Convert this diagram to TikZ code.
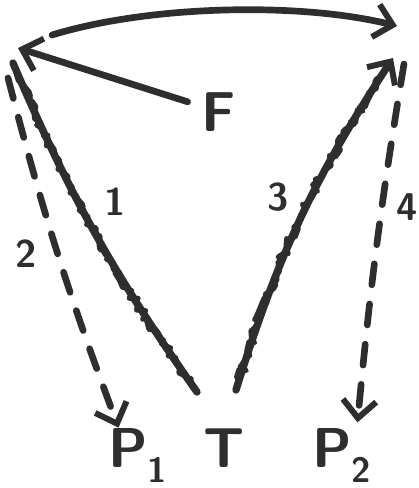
\documentclass[tikz,border=0pt]{standalone}
\usepackage{tikz}
\usetikzlibrary{arrows.meta,calc,decorations.pathmorphing}
\definecolor{Ink}{RGB}{46,46,46}
\newcommand{\lowsub}[1]{\raisebox{-9pt}{\fontsize{20}{22}\selectfont #1}}
\tikzset{
  nd_big/.style={font=\fontsize{32}{38}\selectfont\sffamily\bfseries,text=Ink,inner sep=0pt},
  nd_num/.style={font=\fontsize{22}{26}\selectfont\sffamily\bfseries,text=Ink,inner sep=1pt},
  pen/.style={draw=Ink,line width=3.8pt,line cap=round,line join=round},
  tip/.style={-{Straight Barb[length=10pt,width=19pt,line width=3.4pt]}},
  arr/.style={pen,tip},
  dsh/.style={arr,dash pattern=on 12pt off 11pt},
  hatch/.style={pen,line width=4.2pt},
  fuzz/.style={draw=Ink,line width=2.8pt,line cap=round,line join=round,decorate,
    decoration={random steps,segment length=2.5pt,amplitude=2.4pt}},
}

\begin{document}
\begin{tikzpicture}[x=0.02cm,y=-0.02cm]
\pgfmathsetseed{11}
\useasboundingbox (0,0) rectangle (419,488);
% corners and free ends
\coordinate (A)    at (18,48);
\coordinate (B)    at (393,58);
\coordinate (arcL) at (52,35);
\coordinate (arcR) at (397,26);
\coordinate (h1a)  at (13,63);
\coordinate (h1b)  at (197,392);
\coordinate (h3a)  at (236,390);
\coordinate (h3b)  at (380,78);
\coordinate (d2a)  at (8,78);
\coordinate (d4a)  at (404,64);
% letters
\node[nd_big,anchor=base west] at (201,131)(F){F};
\node[nd_big,anchor=base west] at (108,467)(P1){P\lowsub{1}};
\node[nd_big,anchor=base west] at (203,467)(T){T};
\node[nd_big,anchor=base west] at (312,467)(P2){P\lowsub{2}};
% numbers
\node[nd_num] at (115,202)(n1){1};
\node[nd_num] at (26,254)(n2){2};
\node[nd_num] at (278,197)(n3){3};
\node[nd_num] at (407,207)(n4){4};
% arrows
\draw[arr](arcL) .. controls (150,5) and (300,2) .. (arcR);
\draw[arr,shorten <=8pt](F) -- (A);
\draw[hatch](h1a) to[bend right=6] (h1b);
\draw[fuzz](h1a) to[bend right=6] (h1b);
\draw[hatch,tip](h3a) to[bend left=8] (B);
\draw[fuzz](h3a) to[bend left=8] (h3b);
\draw[dsh](d2a) to[bend right=3] ([xshift=6pt]P1.north west);
\draw[dsh](d4a) to[bend right=2] ([xshift=-8pt,yshift=3pt]P2.north east);
\end{tikzpicture}
\end{document}
